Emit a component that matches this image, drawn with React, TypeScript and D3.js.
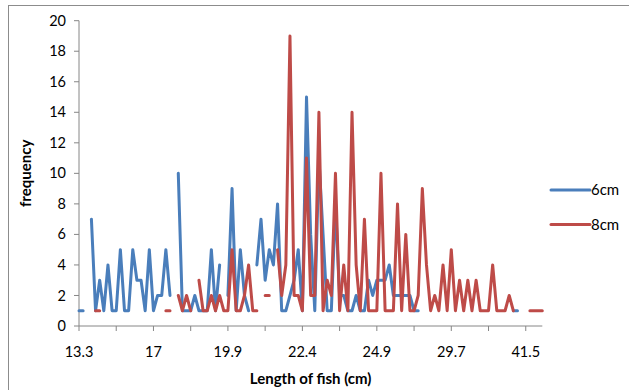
import React from "react";
import * as d3 from "d3";

// Category axis: 113 distinct fish lengths (only every 18th is labelled)
const categoryIndex: number[] = d3.range(113);
const tickLabels: string[] = ["13.3", "17", "19.9", "22.4", "24.9", "29.7", "41.5"];
const yTicks: number[] = [0, 2, 4, 6, 8, 10, 12, 14, 16, 18, 20];

const seriesNames: string[] = ["6cm", "8cm"];

// 6cm mesh – frequency per length category (null = no fish of that length)
const freq6cm: (number | null)[] = [
  1, 1, null, 7, 1, 3, 1, 4, 1, 1,
  5, 1, 1, 5, 3, 3, 1, 5, 1, 2,
  2, 5, 2, null, 10, 1, 1, 1, 2, 1,
  1, 1, 5, 1, 4, null, 2, 9, 1, 5,
  2, 1, null, 4, 7, 3, 5, 4, 8, 1,
  1, 2, 3, 5, 1, 15, 6, 1, 11, 6,
  1, 1, 8, 2, 2, 1, 1, 2, 1, 1,
  3, 2, 3, 3, 3, 4, 2, 2, 2, 2,
  2, 1, 1, null, null, null, null, null, null, null,
  null, null, null, null, null, null, null, null, null, null,
  null, null, null, null, null, 1, 1, null, null, null,
  null, null, null,
];

// 8cm mesh
const freq8cm: (number | null)[] = [
  null, null, null, null, 1, 1, null, null, null, null,
  null, null, null, null, null, null, null, null, null, null,
  null, 1, 1, null, 2, 1, 2, 1, null, 3,
  1, 1, 2, 1, 2, 1, 1, 5, 1, 1,
  2, 4, 1, 1, null, 2, 2, null, 5, 2,
  4, 19, 2, 2, 1, 11, 2, 2, 14, 1,
  3, 2, 10, 1, 4, 1, 14, 4, 1, 7,
  1, 1, 1, 10, 1, 1, 1, 8, 1, 6,
  1, 1, 2, 9, 4, 1, 2, 1, 4, 1,
  5, 1, 3, 1, 3, 1, 3, 1, 1, 1,
  4, 1, 1, 1, 2, 1, null, null, null, 1,
  1, 1, 1,
];

const seriesValues = [freq6cm, freq8cm];
const seriesColors = ["#4A7EBB", "#BE4B48"];

const W = 629;
const H = 390;
const FONT = "Lato, 'Open Sans', 'Noto Sans', sans-serif";

export default function App() {
  const left = 79;
  const right = 542.3;
  const top = 20.7;
  const bottom = 326;

  const x = d3.scalePoint<number>().domain(categoryIndex).range([left, right]);
  const y = d3.scaleLinear().domain([0, 20]).range([bottom, top]);

  const line = d3
    .line<number | null>()
    .defined((d) => d != null)
    .x((_, i) => x(i) as number)
    .y((d) => y(d as number));

  const xTickIdx = categoryIndex.filter((i) => i % 9 === 0);
  const xLabelIdx = categoryIndex.filter((i) => i % 18 === 0);

  const axisColor = "#868686";

  return (
    <svg
      width={W}
      height={H}
      style={{ position: "absolute", left: 0, top: 0, background: "#fff" }}
      fontFamily={FONT}
    >
      <rect x={0} y={0} width={W} height={H} fill="#fff" />
      {/* chart area border (cropped) */}
      <rect x={8.5} y={5.5} width={W + 50} height={H + 50} fill="none" stroke="#8c8c8c" strokeWidth={1} />

      {/* Y axis */}
      <line x1={left} x2={left} y1={top} y2={bottom} stroke={axisColor} strokeWidth={1} />
      {yTicks.map((t) => (
        <g key={"y" + t}>
          <line x1={left - 5} x2={left} y1={y(t)} y2={y(t)} stroke={axisColor} />
          <text x={left - 13} y={y(t)} dy="0.35em" textAnchor="end" fontSize={14.5} fill="#000">
            {t}
          </text>
        </g>
      ))}

      {/* X axis */}
      <line x1={left} x2={right} y1={bottom} y2={bottom} stroke={axisColor} strokeWidth={1} />
      {xTickIdx.map((i) => (
        <line key={"xt" + i} x1={x(i)} x2={x(i)} y1={bottom} y2={bottom + 5} stroke={axisColor} />
      ))}
      {xLabelIdx.map((i, k) => (
        <text key={"xl" + i} x={x(i)} y={357} textAnchor="middle" fontSize={14.5} fill="#000">
          {tickLabels[k]}
        </text>
      ))}

      {/* series */}
      {seriesValues.map((vals, s) => (
        <path
          key={"s" + s}
          d={line(vals) || ""}
          fill="none"
          stroke={seriesColors[s]}
          strokeWidth={3}
          strokeLinejoin="round"
          strokeLinecap="round"
        />
      ))}

      {/* axis titles */}
      <text x={(left + right) / 2} y={384} textAnchor="middle" fontSize={15} fontWeight="bold" fill="#000">
        Length of fish (cm)
      </text>
      <text
        transform={`translate(31, ${(top + bottom) / 2}) rotate(-90)`}
        textAnchor="middle"
        fontSize={15}
        fontWeight="bold"
        fill="#000"
      >
        frequency
      </text>

      {/* legend */}
      {seriesNames.map((name, s) => (
        <g key={"lg" + s} transform={`translate(0, ${190 + s * 34.5})`}>
          <line x1={551} x2={590} y1={0} y2={0} stroke={seriesColors[s]} strokeWidth={3} strokeLinecap="round" />
          <text x={591} y={0} dy="0.35em" fontSize={15} fill="#000">
            {name}
          </text>
        </g>
      ))}
    </svg>
  );
}
